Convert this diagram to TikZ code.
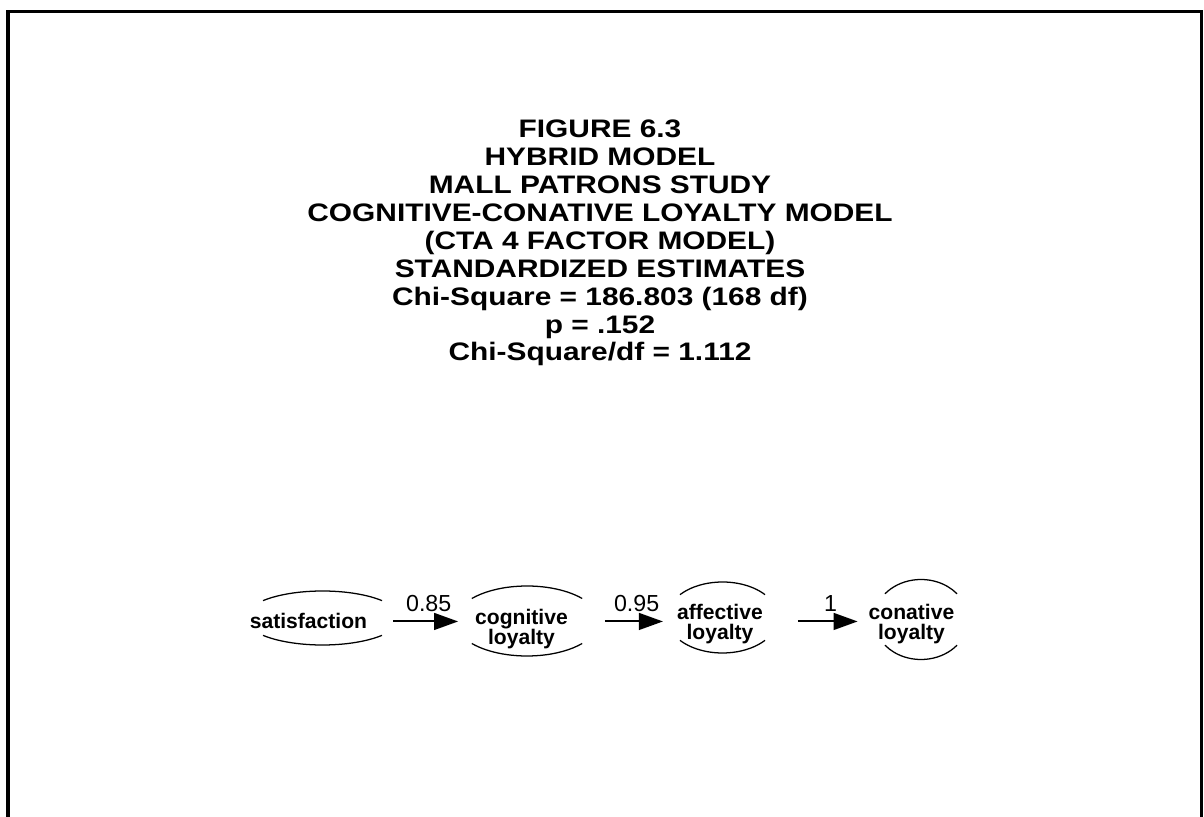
\documentclass[tikz,border=0pt]{standalone}
\usepackage{fontspec}
\setmainfont{Liberation Sans}
\newfontfamily\titlefont[FakeStretch=1.18]{Liberation Sans}
\usetikzlibrary{arrows.meta}

\begin{document}
\begin{tikzpicture}[x=0.025cm,y=0.025cm,
  heading/.style={inner sep=0pt, anchor=base, align=center,
    font=\fontsize{18}{19.9}\selectfont\titlefont\bfseries},
  factor/.style={inner sep=0pt, anchor=base, align=center,
    font=\fontsize{15}{14.5}\selectfont\bfseries},
  rim/.style={line width=0.9pt},
  effect/.style={line width=1.4pt, -{Triangle[length=0.6cm,width=0.42cm]}},
  estimate/.style={above, inner sep=0pt, yshift=0.22cm,
    font=\fontsize{16.5}{16.5}\selectfont}]

% Page frame (open at the bottom)
\clip (0,0) rectangle (1204,816);
\draw[line width=2.2pt] (8,-10) -- (8,804.3) -- (1201.5,804.3) -- (1201.5,-10);

% Title block (anchored on its last baseline)
\node[heading] (title) at (600,455) {FIGURE 6.3\\HYBRID MODEL\\MALL PATRONS STUDY\\
  COGNITIVE-CONATIVE LOYALTY MODEL\\(CTA 4 FACTOR MODEL)\\STANDARDIZED ESTIMATES\\
  Chi-Square = 186.803 (168 df)\\p = .152\\Chi-Square/df = 1.112};

% Latent factors
\node[factor] (sat) at (308.5,187) {satisfaction};
\node[factor] (cog) at (521.5,171) {cognitive\\loyalty};
\node[factor] (aff) at (720,176) {affective\\loyalty};
\node[factor] (con) at (911.5,176) {conative\\loyalty};

% Ellipse outlines, only upper and lower rims show
\foreach \cx/\cy/\rx/\ry in {322.5/198/77.7/27, 527/195/72/35,
    722.5/198.5/55.5/35.5, 921/196.5/47/40}{
  \draw[rim] ({\cx+\rx*cos(40)},{\cy+\ry*sin(40)})
    arc[start angle=40, end angle=140, x radius=\rx, y radius=\ry];
  \draw[rim] ({\cx+\rx*cos(220)},{\cy+\ry*sin(220)})
    arc[start angle=220, end angle=320, x radius=\rx, y radius=\ry];
}

% Structural paths
\draw[effect, shorten <=0.65cm, shorten >=0.42cm]
  (sat.east) -- (sat.east -| cog.west) node[estimate, pos=0.57] {0.85};
\draw[effect, shorten <=0.92cm, shorten >=0.35cm]
  (cog.east |- sat.east) -- (aff.west |- sat.east) node[estimate, pos=0.63] {0.95};
\draw[effect, shorten <=0.87cm, shorten >=0.27cm]
  (aff.east |- sat.east) -- (con.west |- sat.east) node[estimate, pos=0.64] {1};

\end{tikzpicture}
\end{document}
